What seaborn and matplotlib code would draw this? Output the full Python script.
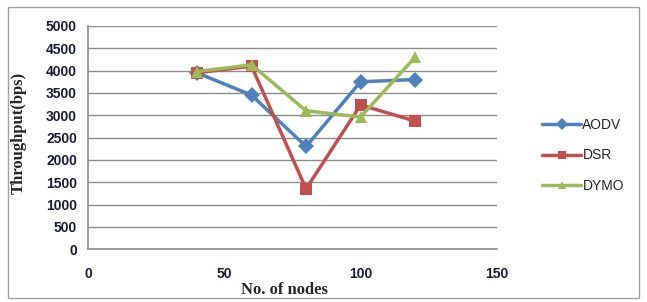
import matplotlib
matplotlib.use("Agg")
import matplotlib.pyplot as plt
import matplotlib.patches as mpatches
import seaborn as sns
import pandas as pd

# values
nodes = [40, 60, 80, 100, 120]
aodv = [3950, 3450, 2300, 3750, 3800]
dsr = [3950, 4100, 1350, 3230, 2870]
dymo = [3980, 4130, 3100, 2960, 4300]
protocols = ["AODV", "DSR", "DYMO"]
x_ticks = [0, 50, 100, 150]
y_ticks = list(range(0, 5001, 500))

df = pd.DataFrame({
    "nodes": nodes * 3,
    "throughput": aodv + dsr + dymo,
    "protocol": [p for p in protocols for _ in nodes],
})

sns.set_theme(style="white")
plt.rcParams['font.family'] = ['Liberation Sans', 'DejaVu Sans']

fig = plt.figure(figsize=(6.47, 3.02), dpi=100)
ax = fig.add_axes([0.136, 0.175, 0.632, 0.739])

palette = {"AODV": "#4F81BD", "DSR": "#C0504D", "DYMO": "#9BBB59"}
markers = {"AODV": "D", "DSR": "s", "DYMO": "^"}
sns.lineplot(data=df, x="nodes", y="throughput", hue="protocol", style="protocol",
             palette=palette, markers=markers, dashes=False, linewidth=2.5,
             markersize=8, markeredgewidth=0, ax=ax)

ax.set_xlim(0, 150)
ax.set_ylim(0, 5000)
ax.set_xticks(x_ticks)
ax.set_yticks(y_ticks)
ax.yaxis.grid(True, color="#8c8c8c", linewidth=1)
ax.xaxis.grid(False)
for s in ["top", "right"]:
    ax.spines[s].set_visible(False)
for s in ["left", "bottom"]:
    ax.spines[s].set_color("#8c8c8c")
    ax.spines[s].set_linewidth(1.2)
ax.tick_params(axis="both", which="major", direction="out", length=5, width=1,
               color="#8c8c8c", labelsize=10, labelcolor="#1a1a3a")
ax.tick_params(axis="x", pad=8)
ax.tick_params(axis="y", pad=3)
for lbl in ax.get_xticklabels() + ax.get_yticklabels():
    lbl.set_fontweight("bold")

ax.set_xlabel("No. of nodes", fontsize=12, fontweight="bold",
              family=["Liberation Serif", "DejaVu Serif"])
ax.xaxis.set_label_coords(0.48, -0.145)
ax.set_ylabel("Throughput(bps)", fontsize=12, fontweight="bold",
              family=["Liberation Serif", "DejaVu Serif"])
ax.yaxis.set_label_coords(-0.15, 0.52)

leg = ax.legend(loc="center left", bbox_to_anchor=(1.08, 0.42), frameon=False,
                fontsize=10, handlelength=2.8, labelspacing=1.2, handletextpad=0.1,
                markerscale=0.8)
leg.set_title(None)

# outer chart frame
fig.patches.append(mpatches.Rectangle((0.012, 0.012), 0.976, 0.965, transform=fig.transFigure,
                                      fill=False, edgecolor="#a0a0a0", linewidth=1))

fig.savefig("out.png", dpi=100)
